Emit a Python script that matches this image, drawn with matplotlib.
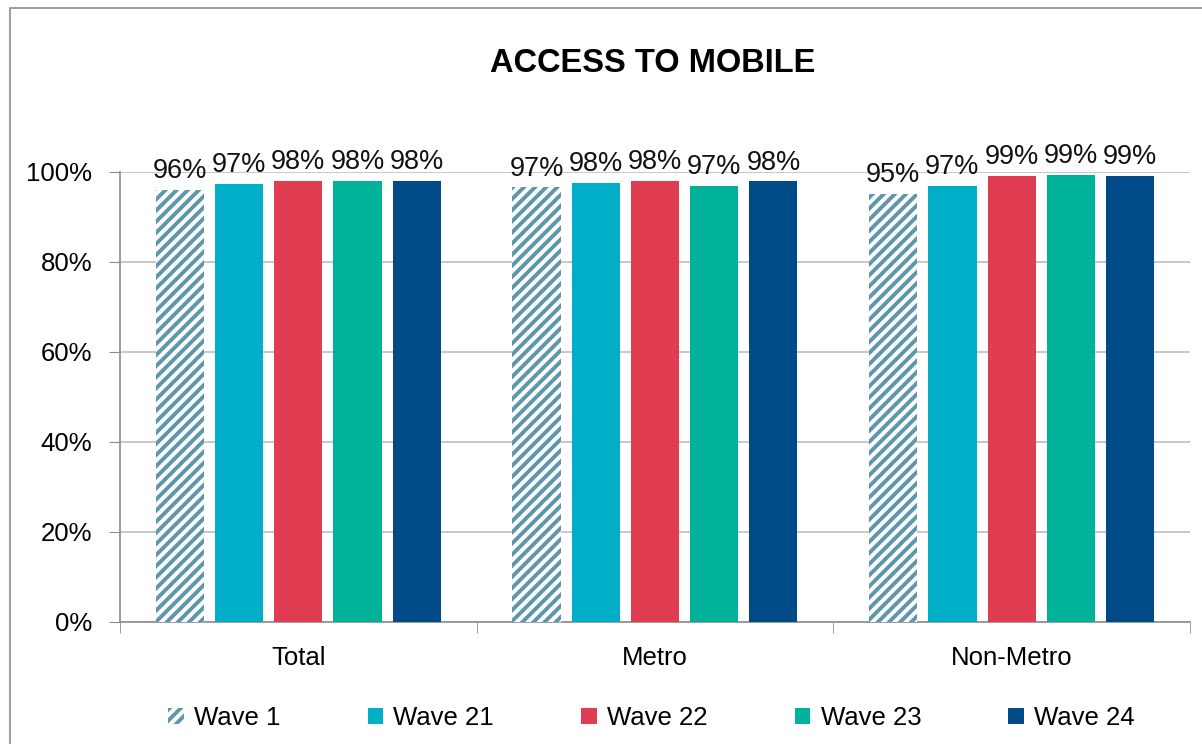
import matplotlib.pyplot as plt
import numpy as np
from matplotlib.patches import Rectangle, Patch

plt.rcParams['font.family'] = ['Liberation Sans', 'DejaVu Sans']
plt.rcParams['hatch.linewidth'] = 2.8

categories = ["Total", "Metro", "Non-Metro"]
waves = ["Wave 1", "Wave 21", "Wave 22", "Wave 23", "Wave 24"]
wave1 = [96.0, 96.6, 95.1]
wave21 = [97.4, 97.6, 96.9]
wave22 = [98.0, 98.0, 99.1]
wave23 = [98.0, 96.9, 99.4]
wave24 = [98.0, 97.9, 99.1]
colors = ["#5E97AC", "#00AEC7", "#E03C52", "#00B299", "#004B87"]

series = [wave1, wave21, wave22, wave23, wave24]

fig = plt.figure(figsize=(12.02, 7.44), dpi=100)
ax = fig.add_axes([0.0998, 0.164, 0.8902, 0.605])

# outer chart border
fig.patches.append(Rectangle((10/1202, -0.05), 1.2, 1 - 8/744 + 0.05,
                             transform=fig.transFigure, fill=False,
                             edgecolor="#8C8C8C", linewidth=1.2))

x = np.arange(len(categories))
width = 0.135
step = 0.166
for i, (vals, c) in enumerate(zip(series, colors)):
    pos = x + (i - 2) * step
    if i == 0:
        bars = ax.bar(pos, vals, width, facecolor="white", edgecolor=c,
                      hatch="///", linewidth=0, label=waves[i], zorder=3)
    else:
        bars = ax.bar(pos, vals, width, color=c, label=waves[i], zorder=3)
    for b, v in zip(bars, vals):
        ax.annotate(f"{v:.0f}%", (b.get_x() + b.get_width()/2, v),
                    xytext=(0, 4), textcoords="offset points",
                    ha="center", va="bottom", fontsize=19.5, color="#111111")

ax.set_ylim(0, 100)
ax.set_xlim(-0.5, 2.5)
ax.set_yticks(range(0, 101, 20))
ax.set_yticklabels([f"{t}%" for t in range(0, 101, 20)], fontsize=18.5)
ax.yaxis.grid(True, color="#BFBFBF", linewidth=1.2, zorder=0)
ax.set_axisbelow(True)

ax.set_xticks(x)
ax.set_xticklabels(categories, fontsize=18.5)
ax.tick_params(axis="x", length=0, pad=17)
ax.set_xticks([-0.5, 0.5, 1.5, 2.5], minor=True)
ax.tick_params(axis="x", which="minor", length=8, color="#8C8C8C")
ax.tick_params(axis="y", length=8, color="#8C8C8C", pad=12)

for s in ["top", "right"]:
    ax.spines[s].set_visible(False)
for s in ["left", "bottom"]:
    ax.spines[s].set_color("#8C8C8C")
    ax.spines[s].set_linewidth(1.2)

fig.text(0.543, 0.915, "ACCESS TO MOBILE", ha="center", va="center",
         fontsize=23.5, fontweight="bold")

handles = [Patch(facecolor="white", edgecolor=colors[0], hatch="///", linewidth=0)]
handles += [Patch(facecolor=c) for c in colors[1:]]
fig.legend(handles, waves, loc="center", bbox_to_anchor=(0.542, 0.035), ncol=5,
           frameon=False, fontsize=18.5, handlelength=0.6, handleheight=0.6,
           handletextpad=0.4, columnspacing=3.4)

fig.savefig("out.png", dpi=100)
